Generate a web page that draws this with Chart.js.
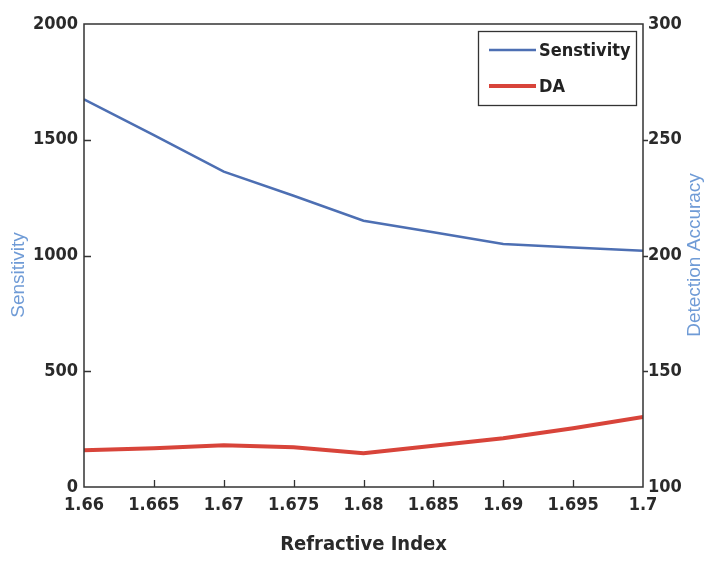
<!DOCTYPE html>
<html>
<head>
<meta charset="utf-8">
<script src="https://cdn.jsdelivr.net/npm/chart.js@4/dist/chart.umd.min.js"></script>
<style>
  html, body { margin: 0; padding: 0; background: #ffffff; }
  #wrap { width: 704px; height: 562px; position: relative; }
</style>
</head>
<body>
<div id="wrap"><canvas id="chart"></canvas></div>
<script>
// Refractive index samples
const refractiveIndex = [1.66, 1.665, 1.67, 1.675, 1.68, 1.685, 1.69, 1.695, 1.7];
// Sensitivity (left axis)
const sensitivity = [1675, 1520, 1362, 1258, 1150, 1100, 1050, 1035, 1020];
// Detection accuracy (right axis)
const detectionAccuracy = [115.9, 116.7, 118.0, 117.2, 114.6, 117.8, 121.1, 125.4, 130.2];

const xTicks = [1.66, 1.665, 1.67, 1.675, 1.68, 1.685, 1.69, 1.695, 1.7];
const leftTicks = [0, 500, 1000, 1500, 2000];
const rightTicks = [100, 150, 200, 250, 300];

const seriesNames = ['Senstivity', 'DA'];
const axisTitles = { x: 'Refractive Index', left: 'Sensitivity', right: 'Detection Accuracy' };

const BLUE = '#4d6fb3';
const RED = '#d8443a';
const AXIS = '#333333';
const TITLE_BLUE = '#6f9bd6';
const NARROW = "'Liberation Sans Narrow', 'DejaVu Sans Condensed', 'Arial Narrow', sans-serif";

function toPoints(xs, ys) { return xs.map((x, i) => ({ x: x, y: ys[i] })); }
function fmt(v) { return String(Number(v.toFixed(3))); }

// Box frame, inward tick marks, rotated y titles and the legend box
const decorations = {
  id: 'decorations',
  afterDraw(chart) {
    const { ctx, chartArea: a, scales } = chart;
    ctx.save();
    ctx.strokeStyle = AXIS;
    ctx.lineWidth = 1.5;
    ctx.strokeRect(a.left, a.top, a.right - a.left, a.bottom - a.top);

    ctx.lineWidth = 1.3;
    ctx.beginPath();
    scales.x.ticks.forEach(t => {
      const px = Math.round(scales.x.getPixelForValue(t.value)) + 0.5;
      if (px <= a.left + 1 || px >= a.right - 1) return;
      ctx.moveTo(px, a.bottom); ctx.lineTo(px, a.bottom - 7);
    });
    scales.y.ticks.forEach(t => {
      const py = Math.round(scales.y.getPixelForValue(t.value)) + 0.5;
      if (py <= a.top + 1 || py >= a.bottom - 1) return;
      ctx.moveTo(a.left, py); ctx.lineTo(a.left + 7, py);
    });
    scales.y1.ticks.forEach(t => {
      const py = Math.round(scales.y1.getPixelForValue(t.value)) + 0.5;
      if (py <= a.top + 1 || py >= a.bottom - 1) return;
      ctx.moveTo(a.right, py); ctx.lineTo(a.right + 5, py);
    });
    ctx.stroke();

    // y axis titles, both reading bottom to top
    ctx.fillStyle = TITLE_BLUE;
    ctx.font = "19px 'Liberation Sans', Arial, sans-serif";
    ctx.textAlign = 'center';
    ctx.textBaseline = 'middle';
    ctx.save();
    ctx.translate(19, 275);
    ctx.rotate(-Math.PI / 2);
    ctx.fillText(axisTitles.left, 0, 0);
    ctx.restore();
    ctx.save();
    ctx.translate(695, 255);
    ctx.rotate(-Math.PI / 2);
    ctx.fillText(axisTitles.right, 0, 0);
    ctx.restore();

    // legend
    const lx = 478, ly = 31, lw = 158, lh = 74;
    ctx.fillStyle = '#ffffff';
    ctx.fillRect(lx, ly, lw, lh);
    ctx.strokeStyle = AXIS;
    ctx.lineWidth = 1.3;
    ctx.strokeRect(lx + 0.5, ly + 0.5, lw, lh);
    const rows = [ly + 19, ly + 55];
    chart.data.datasets.forEach((ds, i) => {
      ctx.strokeStyle = ds.borderColor;
      ctx.lineWidth = ds.borderWidth;
      ctx.beginPath();
      ctx.moveTo(lx + 11, rows[i]);
      ctx.lineTo(lx + 58, rows[i]);
      ctx.stroke();
      ctx.fillStyle = '#222222';
      ctx.font = "bold 18px " + NARROW;
      ctx.textAlign = 'left';
      ctx.fillText(ds.label, lx + 61, rows[i] + 1);
    });
    ctx.restore();
  }
};

const tickFont = { family: NARROW, size: 18, weight: 'bold' };

new Chart(document.getElementById('chart'), {
  type: 'line',
  data: {
    datasets: [
      {
        label: seriesNames[0],
        data: toPoints(refractiveIndex, sensitivity),
        borderColor: BLUE,
        borderWidth: 2.5,
        pointRadius: 0,
        tension: 0,
        yAxisID: 'y'
      },
      {
        label: seriesNames[1],
        data: toPoints(refractiveIndex, detectionAccuracy),
        borderColor: RED,
        borderWidth: 4,
        pointRadius: 0,
        tension: 0,
        yAxisID: 'y1'
      }
    ]
  },
  options: {
    responsive: true,
    maintainAspectRatio: false,
    animation: false,
    layout: { padding: { top: 24, right: 0, bottom: 0, left: 0 } },
    plugins: {
      legend: { display: false },
      tooltip: { enabled: false }
    },
    scales: {
      x: {
        type: 'linear',
        min: 1.66,
        max: 1.7,
        afterBuildTicks: s => { s.ticks = xTicks.map(v => ({ value: v })); },
        afterFit: s => { s.height = 75; },
        grid: { display: false, drawTicks: false },
        border: { display: false },
        ticks: {
          padding: 8,
          color: '#2a2a2a',
          font: tickFont,
          callback: v => fmt(v),
          maxRotation: 0,
          autoSkip: false
        },
        title: {
          display: true,
          text: axisTitles.x,
          color: '#2a2a2a',
          font: { family: NARROW, size: 20, weight: 'bold' },
          padding: { top: 4, bottom: 5 }
        }
      },
      y: {
        position: 'left',
        min: 0,
        max: 2000,
        afterBuildTicks: s => { s.ticks = leftTicks.map(v => ({ value: v })); },
        afterFit: s => { s.width = 84; },
        grid: { display: false, drawTicks: false },
        border: { display: false },
        ticks: {
          padding: 6,
          color: '#2a2a2a',
          font: tickFont,
          callback: v => String(v)
        }
      },
      y1: {
        position: 'right',
        min: 100,
        max: 300,
        afterBuildTicks: s => { s.ticks = rightTicks.map(v => ({ value: v })); },
        afterFit: s => { s.width = 61; },
        grid: { display: false, drawTicks: false },
        border: { display: false },
        ticks: {
          padding: 5,
          color: '#2a2a2a',
          font: tickFont,
          callback: v => String(v)
        }
      }
    }
  },
  plugins: [decorations]
});
</script>
</body>
</html>
